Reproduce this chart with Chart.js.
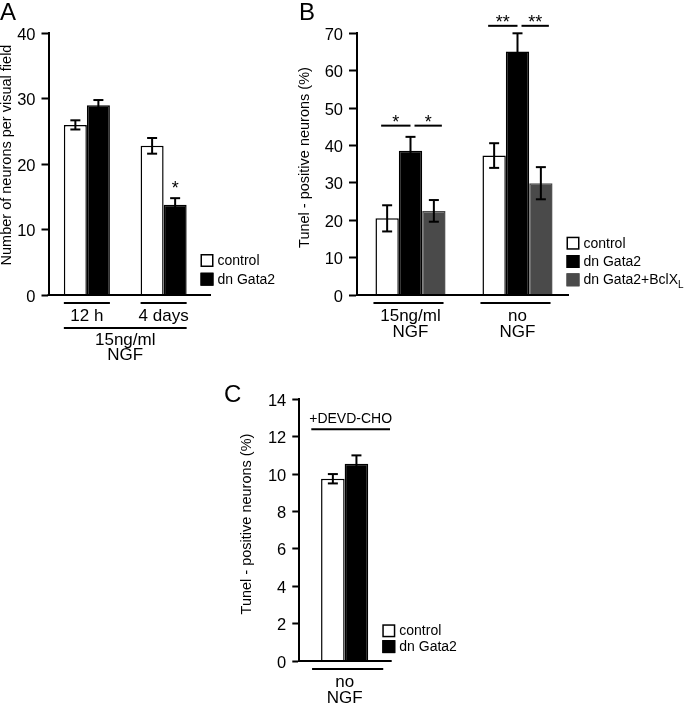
<!DOCTYPE html>
<html>
<head>
<meta charset="utf-8">
<script src="https://cdn.jsdelivr.net/npm/chart.js@4.4.1/dist/chart.umd.min.js"></script>
<style>
body { margin: 0; background: #fff; }
#wrap { position: relative; width: 684px; height: 720px; }
canvas { position: absolute; left: 0; top: 0; }
</style>
</head>
<body>
<div id="wrap">
  <canvas id="chartA" width="684" height="720"></canvas>
  <canvas id="chartB" width="684" height="720"></canvas>
  <canvas id="chartC" width="684" height="720"></canvas>
</div>
<script>
// panel A - neurons per visual field
var groupsA = ['12 h', '4 days'];
var controlA = [26.0, 22.8];
var controlErrA = [0.7, 1.2];
var gataA = [29.0, 13.8];
var gataErrA = [0.8, 1.0];
var starsA = ['', '*'];

// panel B - tunel positive neurons (%)
var groupsB = [['15ng/ml', 'NGF'], ['no', 'NGF']];
var controlB = [20.5, 37.3];
var controlErrB = [3.5, 3.3];
var gataB = [38.6, 65.1];
var gataErrB = [3.7, 4.9];
var bclB = [22.5, 29.9];
var bclErrB = [2.9, 4.3];
// significance: group, bar from, bar to, mark, height (%)
var sigB = [[0, 0, 1, '*', 45.3], [0, 1, 2, '*', 45.3], [1, 0, 1, '**', 72], [1, 1, 2, '**', 72]];

// panel C - with DEVD-CHO
var groupsC = [['no', 'NGF']];
var controlC = [9.75];
var controlErrC = [0.25];
var gataC = [10.55];
var gataErrC = [0.45];

var FONT = '"Liberation Sans", Arial, Helvetica, sans-serif';

function font(size) { return size + 'px ' + FONT; }

function hline(ctx, x1, x2, y) {
  ctx.beginPath(); ctx.moveTo(x1, y); ctx.lineTo(x2, y); ctx.stroke();
}

// everything the figure has that chart.js does not draw on its own
function decor(p) {
  return {
    id: 'decor',
    afterDraw: function(chart) {
      var ctx = chart.ctx, ys = chart.scales.y, area = chart.chartArea;
      var base = ys.getPixelForValue(0);
      var sets = chart.data.datasets;
      var first = chart.getDatasetMeta(0).data;
      var last = chart.getDatasetMeta(sets.length - 1).data;
      ctx.save();
      ctx.strokeStyle = '#000';
      ctx.fillStyle = '#000';
      ctx.lineWidth = 2;

      // x axis
      hline(ctx, area.left - 1, p.axisEnd, base);

      // error bars + stars
      sets.forEach(function(ds, di) {
        chart.getDatasetMeta(di).data.forEach(function(bar, i) {
          var hi = ys.getPixelForValue(ds.data[i] + ds.err[i]);
          var lo = ys.getPixelForValue(ds.data[i] - ds.err[i]);
          ctx.lineWidth = 2;
          ctx.beginPath(); ctx.moveTo(bar.x, hi); ctx.lineTo(bar.x, lo); ctx.stroke();
          hline(ctx, bar.x - 5, bar.x + 5, hi);
          hline(ctx, bar.x - 5, bar.x + 5, lo);
          if (ds.stars && ds.stars[i]) {
            ctx.font = font(18); ctx.textAlign = 'center'; ctx.textBaseline = 'alphabetic';
            ctx.fillText(ds.stars[i], bar.x, hi - 4);
          }
        });
      });

      // group lines and labels under the axis
      ctx.lineWidth = 2;
      ctx.font = font(17); ctx.textAlign = 'center'; ctx.textBaseline = 'middle';
      chart.data.labels.forEach(function(lab, i) {
        var l = first[i].x - first[i].width / 2;
        var r = last[i].x + last[i].width / 2;
        hline(ctx, l - p.linePad[0], r + p.linePad[1], base + 8);
        [].concat(lab).forEach(function(t, k) {
          ctx.fillText(t, (l + r) / 2, base + 21 + 16.5 * k);
        });
      });
      if (p.span) {
        var n = first.length - 1;
        var sl = first[0].x - first[0].width / 2, sr = last[n].x + last[n].width / 2;
        hline(ctx, sl, sr, base + 33);
        p.span.forEach(function(t, k) { ctx.fillText(t, (sl + sr) / 2, base + 45 + 15.5 * k); });
      }

      // significance bars
      ctx.textBaseline = 'alphabetic';
      ctx.font = font(18);
      (p.sig || []).forEach(function(s) {
        var a = chart.getDatasetMeta(s[1]).data[s[0]];
        var b = chart.getDatasetMeta(s[2]).data[s[0]];
        var yy = ys.getPixelForValue(s[4]);
        var l = a.x - 6 + s[1] * 10, r = b.x + s[1] * 8;
        hline(ctx, l, r, yy);
        ctx.fillText(s[3], (l + r) / 2, yy + 2);
      });

      // treatment note above bars
      if (p.note) {
        var ny = ys.getPixelForValue(p.note.value);
        hline(ctx, area.left + 12, area.right, ny);
        ctx.font = font(14);
        ctx.fillText(p.note.text, (area.left + 12 + area.right) / 2, ny - 6);
      }

      // legend
      ctx.font = font(14); ctx.textAlign = 'left'; ctx.textBaseline = 'middle';
      sets.forEach(function(ds, i) {
        var top = p.legend.y + i * p.legend.step;
        ctx.fillStyle = ds.backgroundColor;
        ctx.fillRect(p.legend.x, top, 13, 13);
        ctx.strokeStyle = ds.borderColor; ctx.lineWidth = 1.5;
        ctx.strokeRect(p.legend.x + 0.75, top + 0.75, 11.5, 11.5);
        ctx.fillStyle = '#000';
        ctx.fillText(ds.label, p.legend.x + 17, top + 7);
        if (ds.sub) {
          var w = ctx.measureText(ds.label).width;
          ctx.font = font(10);
          ctx.fillText(ds.sub, p.legend.x + 17 + w, top + 12);
          ctx.font = font(14);
        }
      });

      // panel letter
      ctx.font = font(24); ctx.textBaseline = 'alphabetic';
      ctx.fillText(p.letter[0], p.letter[1], p.letter[2]);

      // y title
      ctx.translate(p.title[1], p.title[2]);
      ctx.rotate(-Math.PI / 2);
      ctx.font = font(14.5); ctx.textAlign = 'center';
      ctx.fillText(p.title[0], 0, 0);
      ctx.restore();
    }
  };
}

function makeChart(id, labels, datasets, p) {
  return new Chart(document.getElementById(id), {
    type: 'bar',
    data: { labels: labels, datasets: datasets },
    options: {
      responsive: false,
      animation: false,
      devicePixelRatio: 1,
      layout: { padding: p.padding },
      plugins: { legend: { display: false }, tooltip: { enabled: false } },
      datasets: { bar: { barPercentage: 1, categoryPercentage: p.catPct } },
      scales: {
        x: { display: false },
        y: {
          min: 0, max: p.max,
          ticks: { stepSize: p.step, color: '#000', font: { family: FONT, size: 16.5 }, padding: 6, labelOffset: 2 },
          grid: { drawOnChartArea: false, tickLength: p.tickLen, tickWidth: 2, tickColor: '#000' },
          border: { color: '#000', width: 2 },
          afterFit: function(s) { s.width = p.yWidth; }
        }
      }
    },
    plugins: [decor(p)]
  });
}

makeChart('chartA', groupsA, [
  { label: 'control', data: controlA, err: controlErrA, backgroundColor: '#fff', borderColor: '#000', borderWidth: 1.5 },
  { label: 'dn Gata2', data: gataA, err: gataErrA, stars: starsA, backgroundColor: '#000', borderColor: '#000', borderWidth: 1.5 }
], {
  padding: { left: 0.5, top: 33.3, right: 482, bottom: 425 },
  yWidth: 48, max: 40, step: 10, tickLen: 7, catPct: 0.6,
  axisEnd: 211, linePad: [0, 0], span: ['15ng/ml', 'NGF'],
  legend: { x: 200.5, y: 254, step: 18.7 },
  letter: ['A', 0, 20],
  title: ['Number of neurons per visual field', 11, 155]
});

makeChart('chartB', groupsB, [
  { label: 'control', data: controlB, err: controlErrB, backgroundColor: '#fff', borderColor: '#000', borderWidth: 1.5 },
  { label: 'dn Gata2', data: gataB, err: gataErrB, backgroundColor: '#000', borderColor: '#000', borderWidth: 1.5 },
  { label: 'dn Gata2+BclX', sub: 'L', data: bclB, err: bclErrB, backgroundColor: '#4a4a4a', borderColor: '#4a4a4a', borderWidth: 1.5 }
], {
  padding: { left: 307, top: 33.3, right: 113, bottom: 425 },
  yWidth: 50, max: 70, step: 10, tickLen: 8, catPct: 0.655,
  axisEnd: 569, linePad: [2, -2], sig: sigB,
  legend: { x: 566.5, y: 236.7, step: 18.3 },
  letter: ['B', 299, 20],
  title: ['Tunel - positive neurons (%)', 309, 157.5]
});

makeChart('chartC', groupsC, [
  { label: 'control', data: controlC, err: controlErrC, backgroundColor: '#fff', borderColor: '#000', borderWidth: 1.5 },
  { label: 'dn Gata2', data: gataC, err: gataErrC, backgroundColor: '#000', borderColor: '#000', borderWidth: 1.5 }
], {
  padding: { left: 259.3, top: 399.3, right: 294, bottom: 59 },
  yWidth: 40, max: 14, step: 2, tickLen: 7, catPct: 0.52,
  axisEnd: 391.7, linePad: [9, 15], note: { text: '+DEVD-CHO', value: 12.4 },
  legend: { x: 382.3, y: 624.3, step: 15.8 },
  letter: ['C', 224, 401.7],
  title: ['Tunel - positive neurons (%)', 251, 524]
});
</script>
</body>
</html>
